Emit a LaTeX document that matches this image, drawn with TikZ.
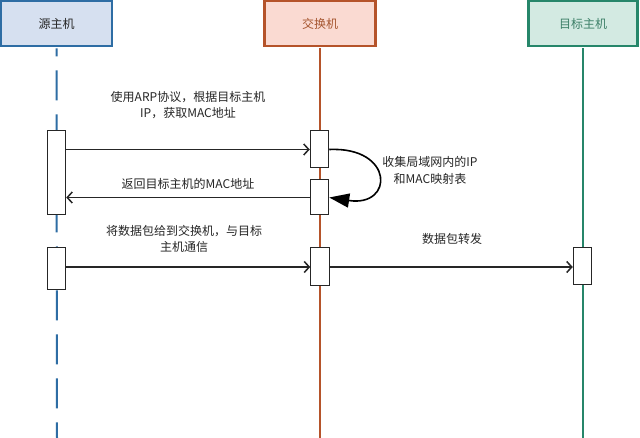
\documentclass[tikz,border=0pt]{standalone}
\usepackage{fontspec}
\newfontfamily\cjk{Noto Sans CJK SC}
\usetikzlibrary{arrows.meta}
\definecolor{srcline}{HTML}{2E6DA4}
\definecolor{srcfill}{HTML}{D6E0F0}
\definecolor{swline}{HTML}{B5532A}
\definecolor{swfill}{HTML}{FADAD2}
\definecolor{swtext}{HTML}{A5552F}
\definecolor{tgline}{HTML}{26866A}
\definecolor{tgfill}{HTML}{D3EAE2}
\definecolor{tgtext}{HTML}{3D8068}
\definecolor{ink}{HTML}{262626}
\begin{document}
\begin{tikzpicture}[x=1pt,y=-1pt,
  font=\cjk\fontsize{12}{16.5}\selectfont,
  head/.style={draw, line width=2.4pt, minimum width=111pt, minimum height=45pt, inner sep=0pt},
  act/.style={draw=ink, fill=white, line width=1pt, minimum width=18.5pt, minimum height=#1, inner sep=0pt},
  msg/.style={draw=ink, line width=1.7pt, -{Straight Barb[length=5pt,width=11pt,line width=1.5pt]}},
  lbl/.style={text=ink, align=center, inner sep=0pt},
  life/.style={line width=2pt}]
\useasboundingbox (0,0) rectangle (640,438);
\fill[white] (0,0) rectangle (640,438);
% header boxes
\node[head, draw=srcline, fill=srcfill, text=ink] (src) at (56.5,23.5) {源主机};
\node[head, draw=swline, fill=swfill, text=swtext] (sw) at (320,23.5) {交换机};
\node[head, draw=tgline, fill=tgfill, text=tgtext, minimum width=109pt] (tg) at (583,23.5) {目标主机};
% lifeline ends
\coordinate (srcend) at (57,438);
\coordinate (swend) at (320,438);
\coordinate (tgend) at (583,438);
\draw[life, srcline, dash pattern=on 30pt off 14pt, dash phase=22pt] ([yshift=-1.2pt]src.south) -- (srcend);
\draw[life, swline] ([yshift=-1.2pt]sw.south) -- (swend);
\draw[life, tgline] ([yshift=-1.2pt]tg.south) -- (tgend);
% activation boxes
\node[act=84pt] (s1) at (56.5,173) {};
\node[act=37pt] (w1) at (319.5,149.5) {};
\node[act=35pt] (w2) at (319.5,197.5) {};
\node[act=42pt] (s2) at (56.5,269) {};
\node[act=38pt] (w3) at (320,267) {};
\node[act=37pt] (t1) at (582.5,266.5) {};
% messages
\draw[msg] (s1.east |- w1.west) -- (w1.west);
\draw[msg] (w2.west) -- (s1.east |- w2.west);
\draw[msg] (s2.east |- w3.west) -- (w3.west);
\draw[msg] (w3.east) -- (t1.west |- w3.east);
\draw[draw=black, line width=1.6pt, -{Triangle[length=20pt,width=14pt]}]
  (w1.east) .. controls +(65,-3) and +(65,10) .. (w2.east);
% labels
\node[lbl] (l1) at (188,105) {使用ARP协议，根据目标主机\\IP，获取MAC地址};
\node[lbl] (l2) at (188,184) {返回目标主机的MAC地址};
\node[lbl] (l3) at (430,170.5) {收集局域网内的IP\\和MAC映射表};
\node[lbl] (l4) at (184,239) {将数据包给到交换机，与目标\\主机通信};
\node[lbl] (l5) at (452,239) {数据包转发};
\end{tikzpicture}
\end{document}
